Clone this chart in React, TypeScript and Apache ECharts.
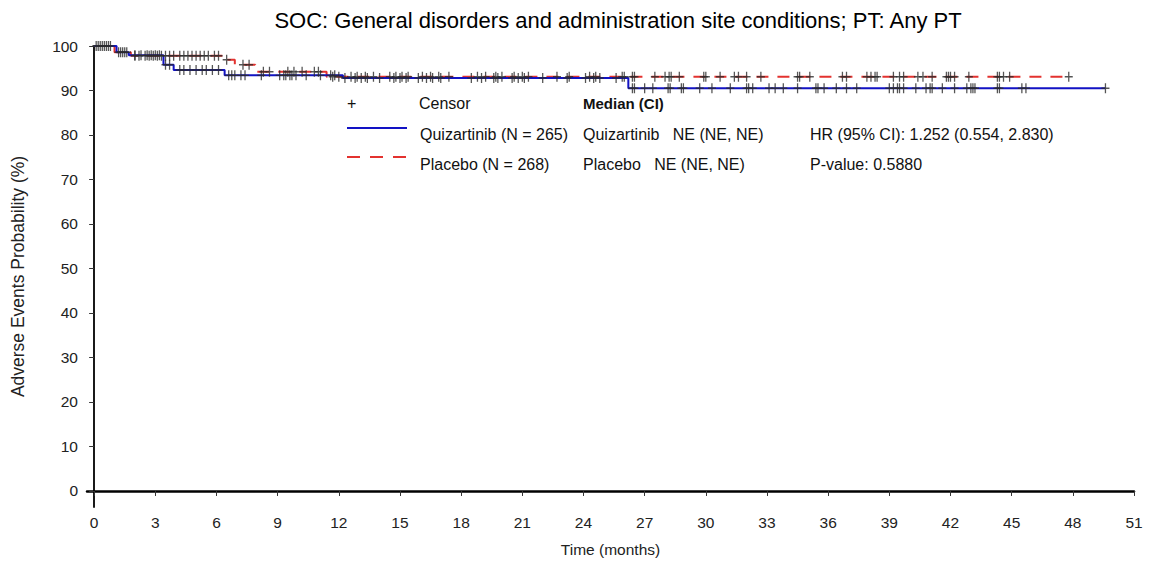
import React, { useEffect, useRef } from "react";
import * as echarts from "echarts";

const titleText = "SOC: General disorders and administration site conditions; PT: Any PT";
const xTicks = [0, 3, 6, 9, 12, 15, 18, 21, 24, 27, 30, 33, 36, 39, 42, 45, 48, 51];
const yTicks = [0, 10, 20, 30, 40, 50, 60, 70, 80, 90, 100];

// Quizartinib step curve (time, probability from that time on)
const qTimes = [0, 1.1, 1.7, 3.4, 3.9, 6.4, 12.2, 26.2, 49.6];
const qSurv = [100, 98.6, 97.9, 95.8, 94.6, 93.4, 92.8, 90.5, 90.5];
// Placebo step curve
const pTimes = [0, 1.0, 1.8, 6.3, 6.9, 7.9, 11.4, 47.8];
const pSurv = [100, 98.6, 97.8, 96.9, 95.8, 94.2, 93.1, 93.1];

const qCensor = [
  0.1, 0.3, 0.5, 0.7, 1.3, 1.5, 2.0, 2.3, 2.6, 2.8, 3.0, 3.2, 3.5, 3.7,
  4.2, 4.4, 4.7, 5.0, 5.3, 5.5, 5.8, 6.1,
  6.6, 6.75, 6.9, 7.2, 7.4, 8.2, 9.1, 9.3, 9.4, 9.6, 9.7, 9.9, 10.4, 11.1, 11.6, 11.8,
  12.3, 12.8, 13.1, 13.4, 14.0, 14.7, 15.0, 15.3, 15.9, 16.3, 16.6, 17.0, 18.5, 19.0,
  19.6, 19.8, 20.5, 20.8, 21.1, 22.0, 23.2, 24.1, 24.5, 24.8, 25.6,
  26.4, 26.5, 27.0, 27.4, 28.15, 28.25, 28.8, 28.9, 29.7, 30.3, 31.2, 32.0, 32.1, 32.3,
  33.1, 33.4, 33.8, 34.5, 35.4, 35.5, 35.8, 36.4, 36.9, 37.4, 39.0, 39.2, 39.4, 39.5,
  39.7, 40.3, 40.8, 41.0, 41.1, 41.6, 42.2, 42.8, 43.0, 43.1, 43.2, 44.3, 44.4, 45.5,
  45.7, 49.6,
];
const pCensor = [
  0.2, 0.4, 0.6, 0.8, 1.2, 1.4, 1.6, 2.0, 2.2, 2.5, 2.7, 2.9, 3.1, 3.3, 3.5, 3.7, 3.9,
  4.2, 4.4, 4.6, 4.8, 5.0, 5.2, 5.4, 5.6, 5.9, 6.1, 6.5, 7.3, 7.6, 8.3, 8.6, 9.5, 9.8,
  10.2, 10.8, 11.0,
  11.7, 12.0, 12.6, 12.9, 13.3, 13.7, 14.5, 14.8, 15.1, 15.4, 16.1, 16.5, 16.9, 17.4,
  18.8, 19.2, 19.7, 20.0, 20.6, 21.0, 21.3, 22.7, 23.3, 24.3, 24.6, 25.9, 26.0,
  26.4, 26.5, 27.5, 28.0, 28.2, 28.3, 28.7, 29.9, 30.0, 30.7, 31.4, 31.6, 32.0, 32.7,
  34.5, 34.6, 35.1, 36.7, 36.9, 37.9, 38.1, 38.3, 38.4, 39.2, 39.5, 39.7, 40.4, 40.65,
  41.1, 41.8, 41.9, 42.0, 42.2, 42.9, 44.3, 44.4, 44.6, 44.9, 47.8,
];

const legendGroups = ["Quizartinib (N = 265)", "Placebo (N = 268)"];
const medianTexts = ["Quizartinib   NE (NE, NE)", "Placebo   NE (NE, NE)"];
const statTexts = ["HR (95% CI): 1.252 (0.554, 2.830)", "P-value: 0.5880"];

const BLUE = "#1212c4";
const RED = "#e3322f";
const FONT = "'Liberation Sans', Arial, sans-serif";

function stepAt(times: number[], surv: number[], t: number) {
  let v = surv[0];
  for (let i = 0; i < times.length; i++) if (times[i] <= t) v = surv[i];
  return v;
}

const PLUS = "path://M4.2,0H5.8V4.3H10V5.7H5.8V10H4.2V5.7H0V4.3H4.2Z";

export default function App() {
  const ref = useRef<HTMLDivElement>(null);
  useEffect(() => {
    const chart = echarts.init(ref.current!, null, { renderer: "svg" });
    const txt = (x: number, y: number, text: string, extra: any = {}) => ({
      type: "text",
      x,
      y,
      style: { text, fill: "#111", font: `16px ${FONT}`, textVerticalAlign: "middle", ...extra },
    });
    chart.setOption({
      animation: false,
      title: {
        text: titleText,
        left: 613,
        textAlign: "center",
        top: 4,
        textStyle: { fontFamily: FONT, fontSize: 22, fontWeight: "normal", color: "#000" },
      },
      grid: { left: 87, right: 20, top: 46, bottom: 54 },
      xAxis: {
        type: "value",
        min: -0.35,
        max: 51,
        name: "Time (months)",
        nameLocation: "middle",
        nameGap: 34,
        nameTextStyle: { fontFamily: FONT, fontSize: 15.5, color: "#222" },
        axisLine: { show: true, lineStyle: { color: "#000", width: 2.5 } },
        axisTick: { show: true, length: 5, customValues: xTicks, lineStyle: { color: "#333" } },
        axisLabel: { customValues: xTicks, fontFamily: FONT, fontSize: 15.5, color: "#222", margin: 7 },
        splitLine: { show: false },
      },
      yAxis: {
        type: "value",
        min: -3.6,
        max: 100,
        name: "Adverse Events Probability (%)",
        nameLocation: "middle",
        nameGap: 60,
        nameTextStyle: { fontFamily: FONT, fontSize: 17.5, color: "#222" },
        axisLine: { show: true, lineStyle: { color: "#000", width: 1.8 } },
        axisTick: { show: true, length: 5, customValues: yTicks, lineStyle: { color: "#333" } },
        axisLabel: { customValues: yTicks, fontFamily: FONT, fontSize: 15.5, color: "#222", margin: 9 },
        splitLine: { show: false },
      },
      series: [
        {
          type: "line",
          name: "Placebo",
          step: "end",
          symbol: "none",
          data: pTimes.map((t, i) => [t, pSurv[i]]),
          lineStyle: { color: RED, width: 2, type: [12, 9] },
          z: 2,
        },
        {
          type: "line",
          name: "Quizartinib",
          step: "end",
          symbol: "none",
          data: qTimes.map((t, i) => [t, qSurv[i]]),
          lineStyle: { color: BLUE, width: 2 },
          z: 3,
        },
        {
          type: "scatter",
          symbol: PLUS,
          symbolSize: [8, 10],
          data: pCensor.map((t) => [t, stepAt(pTimes, pSurv, t)]),
          itemStyle: { color: "#2a2a2a" },
          z: 4,
        },
        {
          type: "scatter",
          symbol: PLUS,
          symbolSize: [8, 10],
          data: qCensor.map((t) => [t, stepAt(qTimes, qSurv, t)]),
          itemStyle: { color: "#2a2a2a" },
          z: 4,
        },
      ],
      graphic: [
        txt(347, 103, "+", { font: `16px ${FONT}` }),
        txt(419, 103, "Censor"),
        txt(583, 103, "Median (CI)", { font: `bold 15px ${FONT}` }),
        { type: "line", shape: { x1: 347, y1: 128, x2: 407, y2: 128 }, style: { stroke: BLUE, lineWidth: 2 } },
        {
          type: "line",
          shape: { x1: 347, y1: 157, x2: 412, y2: 157 },
          style: { stroke: RED, lineWidth: 2.2, lineDash: [13, 10] },
        },
        txt(420, 134, legendGroups[0]),
        txt(420, 164, legendGroups[1]),
        txt(583, 134, medianTexts[0]),
        txt(583, 164, medianTexts[1]),
        txt(810, 134, statTexts[0]),
        txt(810, 164, statTexts[1]),
      ],
    });
    return () => chart.dispose();
  }, []);
  return <div ref={ref} style={{ position: "fixed", left: 0, top: 0, width: 1154, height: 562, background: "#fff" }} />;
}
